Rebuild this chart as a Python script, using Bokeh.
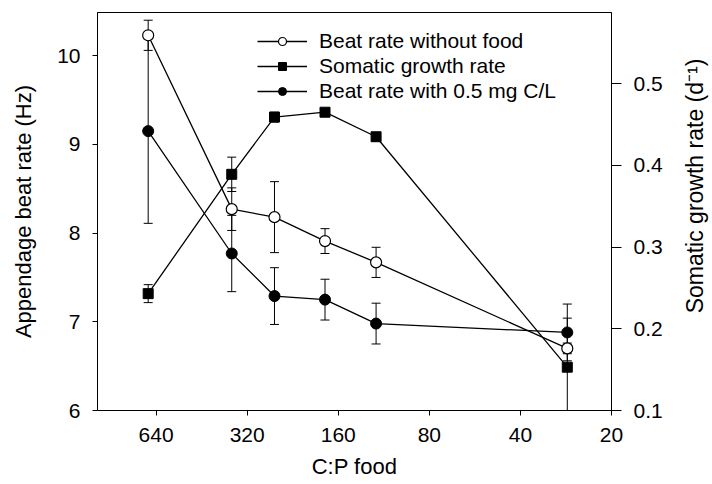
import math
from bokeh.plotting import figure
from bokeh.layouts import row
from bokeh.models import (Range1d, LinearAxis, FixedTicker, NumeralTickFormatter,
                          Legend, LegendItem, ColumnDataSource)
from bokeh.core.properties import value
from bokeh.embed import file_html
from bokeh.resources import INLINE

# ---- data ----
cp_ratio = [680, 360, 260, 177, 120, 28]

beat_no_food = [10.23, 8.27, 8.18, 7.91, 7.67, 6.70]
beat_no_food_err = [0.17, 0.24, 0.40, 0.14, 0.17, 0.06]

growth_rate = [0.243, 0.389, 0.459, 0.465, 0.435, 0.153]
growth_rate_err = [0.011, 0.021, 0.006, 0.004, 0.005, 0.06]

beat_with_food = [9.15, 7.77, 7.29, 7.25, 6.98, 6.88]
beat_with_food_err = [1.04, 0.43, 0.32, 0.23, 0.23, 0.32]

x_ticks = [640, 320, 160, 80, 40, 20]
left_ticks = [6, 7, 8, 9, 10]
right_ticks = [0.1, 0.2, 0.3, 0.4, 0.5]

right_title_text = "Somatic growth rate (d\u207b\u00b9)"

FONT = "Liberation Sans"
W, H = 680, 484          # main figure
TW = 32                  # narrow strip holding the right-hand axis title
ML, MR, MT, MB = 97, 69, 12, 74

p = figure(width=W, height=H, output_backend="svg", toolbar_location=None,
           x_axis_type="log", x_range=Range1d(1000, 20), y_range=Range1d(6, 10.487),
           min_border_left=ML, min_border_right=MR, min_border_top=MT, min_border_bottom=MB)
p.extra_y_ranges = {"growth": Range1d(0.1, 0.587)}
p.grid.visible = False
p.outline_line_color = "black"
p.outline_line_width = 1
p.background_fill_color = "white"
p.border_fill_color = "white"


def style_axis(ax, tick_out=5):
    ax.axis_line_color = "black"
    ax.major_tick_line_color = "black"
    ax.major_tick_out = tick_out
    ax.major_tick_in = 0
    ax.minor_tick_line_color = None
    ax.major_label_text_font = FONT
    ax.major_label_text_font_size = "21px"
    ax.major_label_text_color = "black"
    ax.axis_label_text_font = FONT
    ax.axis_label_text_font_size = "22px"
    ax.axis_label_text_font_style = "normal"
    ax.axis_label_text_color = "black"


xa = p.xaxis[0]
style_axis(xa)
xa.ticker = FixedTicker(ticks=x_ticks)
xa.formatter = NumeralTickFormatter(format="0")
xa.axis_label = "C:P food"
xa.major_label_standoff = 12
xa.axis_label_standoff = 9

ya = p.yaxis[0]
style_axis(ya)
ya.ticker = FixedTicker(ticks=left_ticks)
ya.axis_label = "Appendage beat rate (Hz)"
ya.major_label_standoff = 12
ya.axis_label_standoff = 18

ra = LinearAxis(y_range_name="growth")
style_axis(ra, tick_out=10)
ra.ticker = FixedTicker(ticks=right_ticks)
ra.major_label_standoff = 12
p.add_layout(ra, "right")

src = ColumnDataSource(dict(
    x=cp_ratio,
    nf=beat_no_food,
    nf_lo=[v - e for v, e in zip(beat_no_food, beat_no_food_err)],
    nf_hi=[v + e for v, e in zip(beat_no_food, beat_no_food_err)],
    g=growth_rate,
    g_lo=[v - e for v, e in zip(growth_rate, growth_rate_err)],
    g_hi=[v + e for v, e in zip(growth_rate, growth_rate_err)],
    wf=beat_with_food,
    wf_lo=[v - e for v, e in zip(beat_with_food, beat_with_food_err)],
    wf_hi=[v + e for v, e in zip(beat_with_food, beat_with_food_err)],
))

LW = 1.3
ln_nf = p.line("x", "nf", source=src, line_color="black", line_width=LW)
ln_g = p.line("x", "g", source=src, line_color="black", line_width=LW, y_range_name="growth")
ln_wf = p.line("x", "wf", source=src, line_color="black", line_width=LW)


def errbars(lo, hi, rn="default"):
    p.segment(x0="x", y0=lo, x1="x", y1=hi, source=src, line_color="black",
              line_width=1, y_range_name=rn)
    for col in (lo, hi):
        p.scatter("x", col, source=src, marker="dash", size=9, line_color="black",
                  line_width=1, y_range_name=rn)


errbars("nf_lo", "nf_hi")
errbars("g_lo", "g_hi", "growth")
errbars("wf_lo", "wf_hi")

mk_wf = p.scatter("x", "wf", source=src, marker="circle", size=11,
                  fill_color="black", line_color="black", line_width=1)
mk_g = p.scatter("x", "g", source=src, marker="square", size=10,
                 fill_color="black", line_color="black", line_width=1, y_range_name="growth")
mk_nf = p.scatter("x", "nf", source=src, marker="circle", size=11,
                  fill_color="white", line_color="black", line_width=1.2)

legend = Legend(items=[
    LegendItem(label="Beat rate without food", renderers=[ln_nf, mk_nf]),
    LegendItem(label="Somatic growth rate", renderers=[ln_g, mk_g]),
    LegendItem(label="Beat rate with 0.5 mg C/L", renderers=[ln_wf, mk_wf]),
], location=(160, 307), orientation="vertical")
legend.border_line_color = None
legend.background_fill_alpha = 0
legend.padding = 0
legend.margin = 0
legend.spacing = 1
legend.glyph_width = 50
legend.glyph_height = 20
legend.label_height = 20
legend.label_standoff = 12
legend.label_text_font = FONT
legend.label_text_font_size = "21px"
legend.label_text_color = "black"
p.add_layout(legend)

# narrow strip to the right: the right-axis title, reading bottom-to-top
t = figure(width=TW, height=H, output_backend="svg", toolbar_location=None,
           x_range=Range1d(0, TW), y_range=Range1d(0, H),
           x_axis_location=None, y_axis_location=None, min_border=0)
t.grid.visible = False
t.outline_line_color = None
t.background_fill_color = "white"
t.border_fill_color = "white"
frame_mid = H - (MT + (H - MT - MB) / 2)
t.text(x=[1], y=[frame_mid], text=[right_title_text], angle=90, angle_units="deg",
       text_align="center", text_baseline="top", text_font=value(FONT),
       text_font_size="23px", text_color="black")

layout = row(p, t, spacing=0)
open("out.html", "w").write(file_html(layout, INLINE))
